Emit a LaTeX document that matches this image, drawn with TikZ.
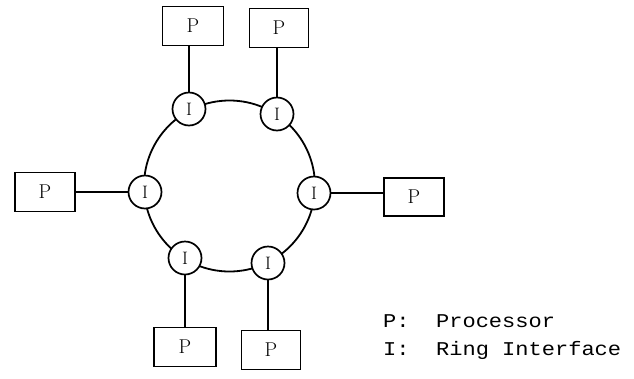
\documentclass[tikz,border=0pt]{standalone}
\usepackage{fontspec}
\setmonofont{Liberation Mono}
\usepackage{graphicx}
\begin{document}
\begin{tikzpicture}[x=1pt,y=-1pt,
  pbox/.style={draw,line width=1.8pt,minimum width=60pt,minimum height=39pt,inner sep=0pt,font=\fontsize{20}{20}\selectfont},
  iface/.style={draw,circle,fill=white,line width=1.7pt,minimum size=33pt,inner sep=0pt,font=\fontsize{18}{18}\selectfont},
  link/.style={line width=1.8pt},
  legend/.style={anchor=base west,inner sep=0pt,font=\fontsize{19.5}{19.5}\ttfamily}]
\useasboundingbox (0,0) rectangle (634,378);
\coordinate (R) at (229.5,186);
\draw[link] (R) circle (85.5);
\node[iface] (I1) at (189,109) {I};
\node[iface] (I2) at (277,114) {I};
\node[iface] (I3) at (145,192) {I};
\node[iface] (I4) at (314,193) {I};
\node[iface] (I5) at (185,258) {I};
\node[iface] (I6) at (268,263) {I};
\node[pbox,minimum width=61pt] (P1) at (193,26) {P};
\node[pbox,minimum width=59pt] (P2) at (279,28) {P};
\node[pbox] (P3) at (45,192) {P};
\node[pbox,minimum height=38pt] (P4) at (414,197) {P};
\node[pbox,minimum width=62pt] (P5) at (185,347) {P};
\node[pbox,minimum width=59pt] (P6) at (271,350) {P};
\draw[link] (I1) -- (I1 |- P1.south);
\draw[link] (I2) -- (I2 |- P2.south);
\draw[link] (I3) -- (I3 -| P3.east);
\draw[link] (I4) -- (I4 -| P4.west);
\draw[link] (I5) -- (I5 |- P5.north);
\draw[link] (I6) -- (I6 |- P6.north);
\node[legend] (L1) at (383,327) {\scalebox{1.13}[1]{P:\ \ Processor}};
\node[legend] (L2) at (383,355) {\scalebox{1.13}[1]{I:\ \ Ring Interface}};
\end{tikzpicture}
\end{document}
